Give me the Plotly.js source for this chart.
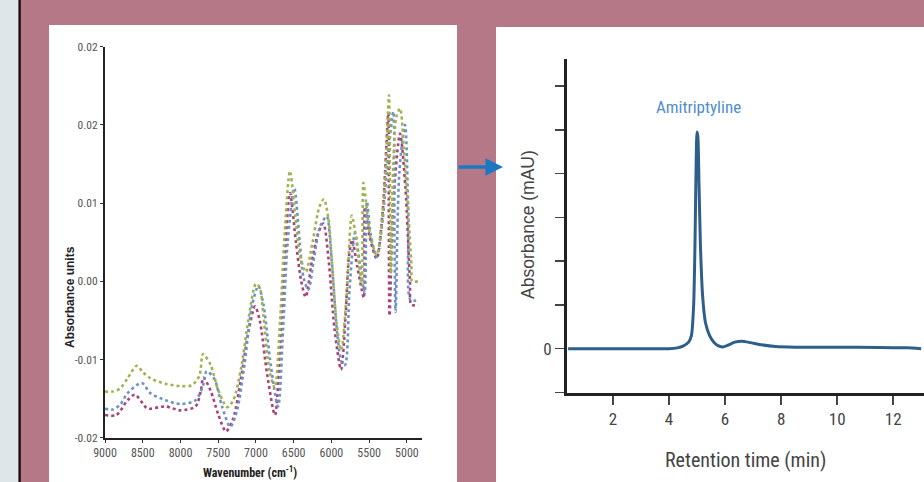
<!DOCTYPE html>
<html><head><meta charset="utf-8">
<script src="https://cdn.plot.ly/plotly-3.0.1.min.js"></script>
<style>html,body{margin:0;padding:0;background:#b47886;}#chart{width:924px;height:482px;}</style>
</head><body><div id="chart"></div>
<script>
// ---- Left panel: NIR spectra ----
const wavenumberTicks = [9000, 8500, 8000, 7500, 7000, 6500, 6000, 5500, 5000];
const absTickVals = [-0.02, -0.01, 0.00, 0.01, 0.02, 0.03];
const absTickText = ['-0.02', '-0.01', '0.00', '0.01', '0.02', '0.02'];

const greenX = [9000,8900,8800,8700,8580,8500,8400,8200,8000,7850,7750,7700,7600,7500,7380,7300,7200,7100,7000,6950,6900,6820,6750,6680,6620,6550,6480,6420,6340,6250,6160,6100,6040,5990,5930,5870,5800,5730,5660,5600,5577,5540,5480,5400,5320,5270,5237,5225,5215,5180,5140,5091,5040,4990,4940,4930,4850];
const greenY = [-0.0141,-0.0141,-0.0137,-0.0124,-0.0108,-0.0116,-0.0124,-0.0131,-0.0134,-0.0133,-0.0121,-0.0093,-0.0107,-0.0139,-0.0161,-0.0152,-0.0113,-0.0049,-0.0003,-0.0008,-0.0045,-0.0115,-0.0136,-0.0050,0.0060,0.0141,0.0085,0.0035,0.0012,0.0050,0.0095,0.0105,0.0080,0.0020,-0.0055,-0.0088,-0.0020,0.0084,0.0045,-0.0005,0.0126,0.0100,0.0055,0.0034,0.0090,0.0170,0.0238,0.0120,0.0010,0.0150,0.0210,0.0221,0.0170,0.0100,0.0020,0.0000,0.0000];

const blueX = [9000,8900,8800,8700,8514,8400,8200,8000,7800,7700,7653,7550,7450,7340,7250,7150,7050,6968,6900,6800,6707,6640,6580,6492,6420,6370,6306,6230,6150,6063,6000,5920,5860,5820,5760,5688,5620,5560,5530,5480,5400,5320,5250,5180,5165,5150,5100,5025,4980,4950,4850];
const blueY = [-0.0163,-0.0164,-0.0158,-0.0143,-0.0130,-0.0143,-0.0152,-0.0157,-0.0152,-0.0133,-0.0115,-0.0125,-0.0160,-0.0186,-0.0165,-0.0105,-0.0030,-0.0006,-0.0030,-0.0110,-0.0160,-0.0060,0.0050,0.0119,0.0050,0.0005,-0.0011,0.0030,0.0070,0.0083,0.0030,-0.0070,-0.0105,-0.0107,-0.0010,0.0062,0.0020,-0.0015,0.0102,0.0060,0.0031,0.0080,0.0160,0.0217,0.0060,-0.0039,0.0140,0.0200,0.0080,-0.0024,-0.0024];

const magentaX = [9000,8850,8700,8603,8450,8400,8200,8000,7800,7730,7697,7600,7500,7397,7300,7200,7100,7012,6950,6850,6748,6680,6620,6549,6470,6400,6341,6260,6180,6107,6040,5960,5873,5810,5770,5727,5660,5600,5570,5556,5490,5400,5320,5246,5240,5230,5180,5091,5020,4960,4940,4850];
const magentaY = [-0.0171,-0.0171,-0.0152,-0.0145,-0.0162,-0.0163,-0.0160,-0.0165,-0.0160,-0.0140,-0.0123,-0.0140,-0.0170,-0.0192,-0.0175,-0.0125,-0.0065,-0.0032,-0.0050,-0.0120,-0.0171,-0.0080,0.0030,0.0113,0.0050,0.0000,-0.0020,0.0025,0.0060,0.0074,0.0030,-0.0060,-0.0113,-0.0040,0.0030,0.0053,0.0020,-0.0010,-0.0021,0.0095,0.0055,0.0029,0.0090,0.0215,0.0080,-0.0044,0.0100,0.0189,0.0120,0.0000,-0.0030,-0.0030];

// ---- Right panel: chromatogram ----
const retentionTicks = [2, 4, 6, 8, 10, 12];
const mauTickVals = [-1, 0, 1, 2, 3, 4, 5, 6];
const mauTickText = ['', '0', '', '', '', '', '', ''];
const timeMin = [0.4,1,2,3,4,4.3,4.5,4.7,4.8,4.88,4.93,4.97,5.0,5.03,5.07,5.12,5.2,5.3,5.45,5.6,5.75,5.9,6.1,6.35,6.6,6.9,7.3,7.8,8.5,10,11.5,12.5,13];
const absMAU = [0,0,0,0,0,0.02,0.06,0.15,0.3,1.0,2.5,4.3,4.95,4.85,3.8,2.4,1.2,0.6,0.3,0.15,0.07,0.04,0.08,0.15,0.17,0.14,0.09,0.05,0.035,0.035,0.03,0.02,0.0];
const peakLabel = 'Amitriptyline';

const narrow = '"Liberation Sans Narrow", "Arial Narrow", "Roboto Condensed", Roboto, sans-serif';

function spec(x, y, color) {
  return {x: x, y: y, xaxis: 'x', yaxis: 'y', type: 'scatter', mode: 'lines',
    line: {color: color, width: 2.6, dash: 'dot', shape: 'spline', smoothing: 0.8},
    hoverinfo: 'skip', showlegend: false};
}

const data = [
  spec(magentaX, magentaY, '#a8437a'),
  spec(blueX, blueY, '#6e93c2'),
  spec(greenX, greenY, '#9fb450'),
  {x: timeMin, y: absMAU, xaxis: 'x2', yaxis: 'y2', type: 'scatter', mode: 'lines',
   line: {color: '#2e5f8c', width: 3, shape: 'spline', smoothing: 0.6}, hoverinfo: 'skip', showlegend: false}
];

const layout = {
  width: 924, height: 482,
  margin: {l: 0, r: 0, t: 0, b: 0},
  paper_bgcolor: '#b47886',
  plot_bgcolor: 'rgba(0,0,0,0)',
  showlegend: false,
  xaxis: {domain: [105/924, 422/924], range: [9000, 4800], anchor: 'y',
    tickvals: wavenumberTicks, ticks: 'outside', ticklen: 3, tickcolor: '#333',
    showline: true, linecolor: '#222', linewidth: 2, showgrid: false, zeroline: false,
    tickfont: {family: narrow, size: 12, color: '#555'}},
  yaxis: {domain: [(482-437.7)/482, (482-46.7)/482], range: [-0.02, 0.03], anchor: 'x',
    tickvals: absTickVals, ticktext: absTickText, ticks: 'outside', ticklen: 3, tickcolor: '#333',
    showline: true, linecolor: '#222', linewidth: 2, showgrid: false, zeroline: false,
    tickfont: {family: narrow, size: 11.5, color: '#555'}},
  xaxis2: {domain: [567/924, 1], range: [0.36, 13.1], anchor: 'y2',
    tickvals: retentionTicks, ticks: 'outside', ticklen: 9, tickwidth: 1.5, tickcolor: '#444',
    showline: true, linecolor: '#222', linewidth: 3, showgrid: false, zeroline: false,
    tickfont: {family: narrow, size: 17, color: '#444'}},
  yaxis2: {domain: [(482-392.5)/482, (482-59)/482], range: [-1, 6.62], anchor: 'x2',
    tickvals: mauTickVals, ticktext: mauTickText, ticks: 'outside', ticklen: 9, tickwidth: 1.5, tickcolor: '#444',
    showline: true, linecolor: '#222', linewidth: 3, showgrid: false, zeroline: false,
    tickfont: {family: narrow, size: 17, color: '#444'}},
  shapes: [
    {type: 'rect', xref: 'paper', yref: 'paper', x0: 0, x1: 18.5/924, y0: 0, y1: 1, fillcolor: '#dfe6ea', line: {width: 0}, layer: 'below'},
    {type: 'rect', xref: 'paper', yref: 'paper', x0: 18.5/924, x1: 20.8/924, y0: 0, y1: 1, fillcolor: '#111', line: {width: 0}, layer: 'below'},
    {type: 'rect', xref: 'paper', yref: 'paper', x0: 49/924, x1: 457/924, y0: 0, y1: (482-25)/482, fillcolor: '#ffffff', line: {width: 0}, layer: 'below'},
    {type: 'rect', xref: 'paper', yref: 'paper', x0: 496/924, x1: 1, y0: 0, y1: (482-27)/482, fillcolor: '#ffffff', line: {width: 0}, layer: 'below'}
  ],
  annotations: [
    {xref: 'paper', yref: 'paper', x: 70/924, y: (482-297)/482, xanchor: 'center', yanchor: 'middle',
     text: '<b>Absorbance units</b>', textangle: -90,
     showarrow: false, font: {family: 'Liberation Sans, Arial, sans-serif', size: 12, color: '#222'}},
    {xref: 'paper', yref: 'paper', x: 250/924, y: (482-472)/482, xanchor: 'center', yanchor: 'middle',
     text: '<b>Wavenumber (cm<sup>-1</sup>)</b>',
     showarrow: false, font: {family: narrow, size: 12, color: '#222'}},
    {xref: 'paper', yref: 'paper', x: 528/924, y: (482-225)/482, xanchor: 'center', yanchor: 'middle',
     text: 'Absorbance (mAU)', textangle: -90,
     showarrow: false, font: {family: 'Liberation Sans, Arial, sans-serif', size: 17.5, color: '#444'}},
    {xref: 'paper', yref: 'paper', x: 745/924, y: (482-460)/482, xanchor: 'center', yanchor: 'middle',
     text: 'Retention time (min)',
     showarrow: false, font: {family: narrow, size: 20, color: '#444'}},
    {xref: 'x2', yref: 'y2', x: 5.05, y: 5.52, xanchor: 'center', yanchor: 'middle', text: peakLabel,
     showarrow: false, font: {family: narrow, size: 17, color: '#4f8ecb'}},
    {xref: 'paper', yref: 'paper', x: 503/924, y: (482-167)/482, text: '', showarrow: true,
     axref: 'pixel', ayref: 'pixel', ax: -46, ay: 0, arrowhead: 2, arrowsize: 1, arrowwidth: 3.5, arrowcolor: '#1c78c2'}
  ]
};

Plotly.newPlot('chart', data, layout, {staticPlot: true, displayModeBar: false});
</script></body></html>
